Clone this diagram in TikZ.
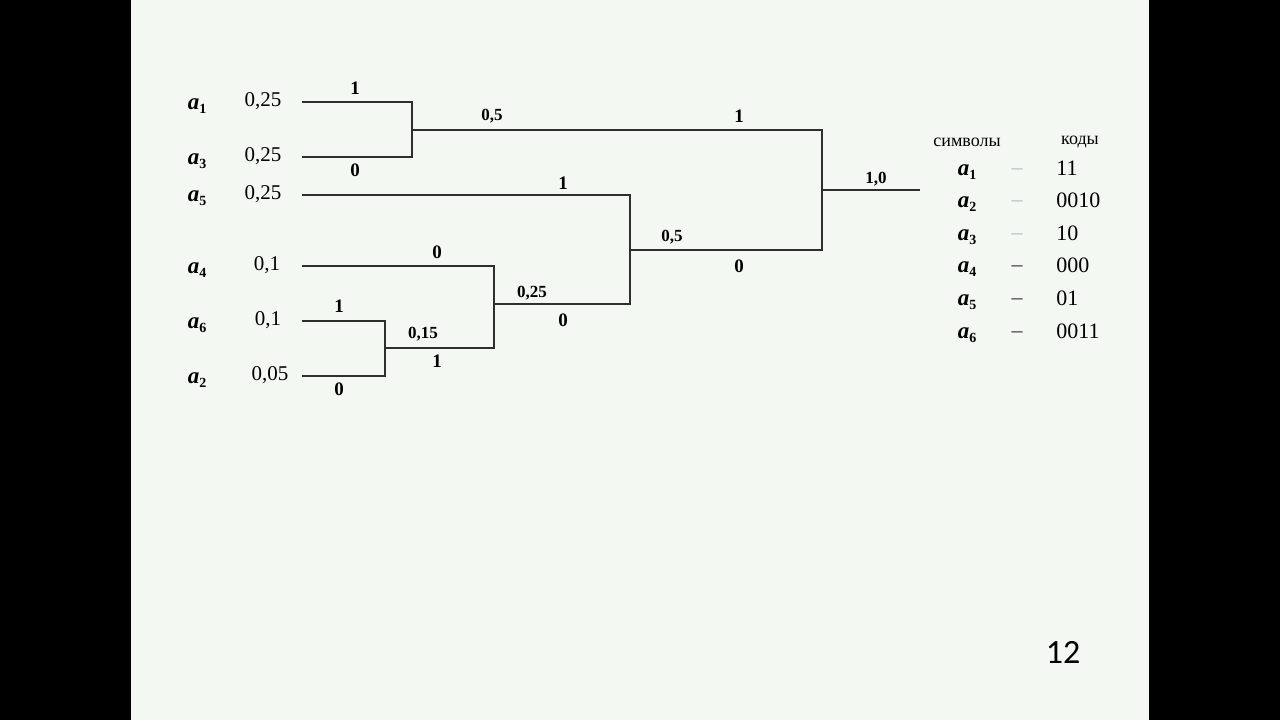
\documentclass[tikz,border=0pt]{standalone}
\usepackage{fontspec}
\setmainfont{Liberation Serif}
\newfontfamily\slidefont{Carlito}
\usetikzlibrary{positioning}
\definecolor{slide}{HTML}{F4F8F3}
\definecolor{edge}{HTML}{2E2E2E}
\definecolor{dashgrey}{HTML}{B8BCB8}
\newcommand{\sym}[1]{\textbf{\textit{a}\raisebox{-0.35ex}{\scriptsize\textup{#1}}}}

\begin{document}
\begin{tikzpicture}[x=0.5pt,y=-0.5pt,
  br/.style={draw=edge,line width=0.8pt},
  symb/.style={font=\fontsize{11.5}{12}\selectfont,inner sep=0pt},
  prob/.style={font=\fontsize{10.5}{12}\selectfont,inner sep=0pt},
  bit/.style={font=\fontsize{9.5}{11}\selectfont\bfseries,inner sep=0pt},
  wt/.style={font=\fontsize{8.5}{10}\selectfont\bfseries,inner sep=0pt},
  head/.style={font=\fontsize{9}{10}\selectfont,inner sep=0pt},
  code/.style={font=\fontsize{11}{12}\selectfont,inner sep=0pt,anchor=west}]
% slide
\fill[black] (0,0) rectangle (1280,720);
\fill[slide] (131,0) rectangle (1149,720);

% leaves and junctions
\coordinate (l1) at (302,102);
\coordinate (l3) at (302,157);
\coordinate (l5) at (302,195);
\coordinate (l4) at (302,266);
\coordinate (l6) at (302,321);
\coordinate (l2) at (302,376);
\coordinate (j13) at (412,130);
\coordinate (j62) at (385,348);
\coordinate (j462) at (494,304);
\coordinate (j5) at (630,250);
\coordinate (root) at (822,190);
\coordinate (top) at (920,190);

\draw[br] (l1) -| (j13);
\draw[br] (l3) -| (j13);
\draw[br] (l6) -| (j62);
\draw[br] (l2) -| (j62);
\draw[br] (l4) -| (j462);
\draw[br] (j62) -| (j462);
\draw[br] (l5) -| (j5);
\draw[br] (j462) -| (j5);
\draw[br] (j13) -| (root);
\draw[br] (j5) -| (root);
\draw[br,line width=0.6pt] (root) -- (top);

% symbols
\node[symb] (s1) at (197,106) {\sym{1}};
\node[symb] (s3) at (197,161) {\sym{3}};
\node[symb] (s5) at (197,198) {\sym{5}};
\node[symb] (s4) at (197,270) {\sym{4}};
\node[symb] (s6) at (197,325) {\sym{6}};
\node[symb] (s2) at (197,380) {\sym{2}};

% probabilities
\node[prob] (p1) at (263,101) {0,25};
\node[prob] (p3) at (263,156) {0,25};
\node[prob] (p5) at (263,194) {0,25};
\node[prob] (p4) at (267,265) {0,1};
\node[prob] (p6) at (268,320) {0,1};
\node[prob] (p2) at (270,375) {0,05};

% branch bits
\node[bit] (b1) at (355,88) {1};
\node[bit] (b3) at (355,170) {0};
\node[bit] (b6) at (339,306) {1};
\node[bit] (b2) at (339,389) {0};
\node[bit] (b4) at (437,252) {0};
\node[bit] (b62) at (437,361) {1};
\node[bit] (b5) at (563,183) {1};
\node[bit] (b462) at (563,320) {0};
\node[bit] (b13) at (739,116) {1};
\node[bit] (bj5) at (739,266) {0};

% weights
\node[wt] (w13) at (492,116) {0,5};
\node[wt] (w62) at (423,334) {0,15};
\node[wt] (w462) at (532,293) {0,25};
\node[wt] (w5) at (672,237) {0,5};
\node[wt] (wr) at (876,179) {1,0};

% code table
\node[head] (hs) at (967,142) {символы};
\node[head] (hc) at (1080,142) {коды};
\foreach \i/\c/\y/\d in {1/11/168/dashgrey, 2/0010/200/dashgrey, 3/10/233/dashgrey,
                         4/000/265/edge, 5/01/298/edge, 6/0011/331/edge}{
  \node[symb] (t\i) at (967,\y+4) {\sym{\i}};
  \node[code,anchor=center,text=\d] (d\i) at (1017,\y+4) {–};
  \node[code] (c\i) at (1056,\y) {\c};
}

\node[font=\slidefont\fontsize{17}{20}\selectfont,inner sep=0pt] (pg) at (1063,652) {12};
\end{tikzpicture}
\end{document}
